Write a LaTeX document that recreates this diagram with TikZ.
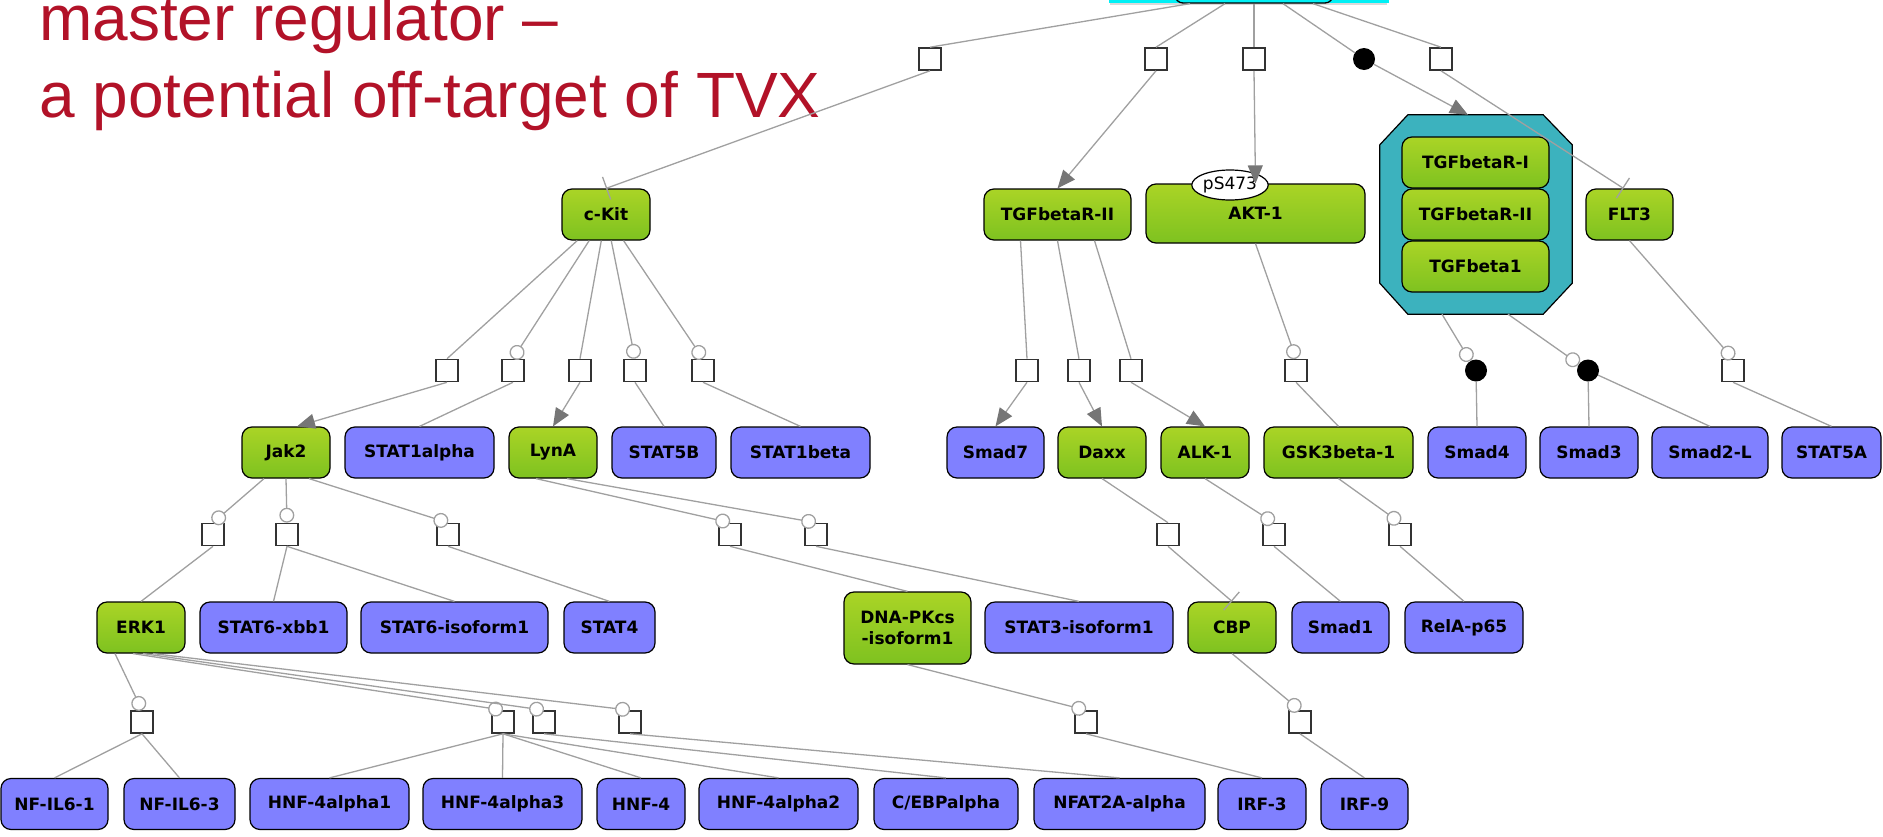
\documentclass[tikz,border=0pt]{standalone}
\usepackage{fontspec}
\setmainfont{DejaVu Sans}
\newfontfamily\titlefont{Liberation Sans}
\usetikzlibrary{arrows.meta,shapes.geometric,calc,shadows}

\definecolor{gtop}{RGB}{170,212,38}
\definecolor{gbot}{RGB}{126,194,32}
\definecolor{pblue}{RGB}{128,128,255}
\definecolor{cplxteal}{RGB}{60,178,190}
\definecolor{edgegray}{RGB}{160,160,160}
\definecolor{tipgray}{RGB}{118,118,118}
\definecolor{boxgray}{RGB}{51,51,51}
\definecolor{titlered}{RGB}{178,18,40}
\definecolor{hlcyan}{RGB}{0,240,245}
\newcommand\lblfont{\bfseries\fontsize{17}{20}\selectfont}

\tikzset{
  gn/.style={rectangle, rounded corners=10pt, draw=black, line width=1.2pt,
    top color=gtop, bottom color=gbot, font=\lblfont, inner sep=0pt,
    minimum height=51pt},
  bn/.style={rectangle, rounded corners=10pt, draw=black, line width=1.2pt,
    fill=pblue, font=\lblfont, inner sep=0pt, minimum height=51pt},
  procbox/.style={rectangle, draw=boxgray, fill=white, line width=1.6pt,
    minimum size=22pt, inner sep=0pt},
  assoc/.style={circle, fill=black, minimum size=22pt, inner sep=0pt},
  conn/.style={draw=edgegray, line width=1.3pt},
  prodarrow/.style={conn, -{Triangle[length=18pt, width=15pt, color=tipgray]}},
  catal/.style={conn, -{Circle[open, length=15pt, width=15pt, fill=white]}},
  inhib/.style={conn, -{Bar[width=24pt]}},
  titletext/.style={anchor=base west, inner sep=0pt,
    font=\titlefont\fontsize{64}{76}\selectfont, text=titlered},
}

\begin{document}
\begin{tikzpicture}[x=1pt, y=-1pt]
\useasboundingbox (0,0) rectangle (1883,836);
\clip (0,0) rectangle (1883,836);

% title
\node[titletext] (t1) at (39,40) {master regulator –};
\node[titletext] (t2) at (39,117) {a potential off-target of TVX};

% highlighted regulator at the top
\node[draw=hlcyan, line width=3pt, fill=white, minimum width=277pt, minimum height=80pt,
  drop shadow={opacity=0.3, shadow xshift=0pt, shadow yshift=-4pt}] (hl) at (1248.5,-39) {};
\node[draw=black, line width=1.3pt, rounded corners=8pt, minimum width=158pt,
  minimum height=60pt] (top) at (1254,-27) {};

% first level
\node[gn, minimum width=88pt] (ckit) at (606,214.5) {c-Kit};
\node[gn, minimum width=147pt] (tgfr2) at (1057.5,214.5) {TGFbetaR-II};
\node[gn, minimum width=219pt, minimum height=59pt] (akt) at (1255.5,213.5) {AKT-1};
\node[ellipse, draw=black, line width=1.2pt, fill=white, minimum width=74pt,
  minimum height=30pt, inner sep=0pt, font=\fontsize{17}{20}\selectfont] (ps) at (1230,185) {pS473};

% TGFbeta complex: octagonal frame around its three members
\node[minimum width=192pt, minimum height=199pt, inner sep=0pt] (cplx) at (1476,214.5) {};
\draw[draw=black, line width=1.2pt, fill=cplxteal]
  ($(cplx.north west)+(28,0)$) -- ($(cplx.north east)+(-29,0)$)
  -- ($(cplx.north east)+(0,30)$) -- ($(cplx.south east)+(0,-31)$)
  -- ($(cplx.south east)+(-29,0)$) -- ($(cplx.south west)+(28,0)$)
  -- ($(cplx.south west)+(0,-31)$) -- ($(cplx.north west)+(0,30)$) -- cycle;
\node[gn, minimum width=147pt] (ctr1) at (1475.5,162.5) {TGFbetaR-I};
\node[gn, minimum width=147pt] (ctr2) at (1475.5,214.5) {TGFbetaR-II};
\node[gn, minimum width=147pt] (ctb1) at (1475.5,266.5) {TGFbeta1};
\node[gn, minimum width=87pt] (flt3) at (1629.5,214.5) {FLT3};

% second level
\node[gn, minimum width=88pt] (jak2) at (286,452.5) {Jak2};
\node[bn, minimum width=149pt] (stat1a) at (419.5,452.5) {STAT1alpha};
\node[gn, minimum width=88pt] (lyna) at (553,452.5) {LynA};
\node[bn, minimum width=104pt] (stat5b) at (664,452.5) {STAT5B};
\node[bn, minimum width=139pt] (stat1b) at (800.5,452.5) {STAT1beta};
\node[bn, minimum width=97pt] (smad7) at (995.5,452.5) {Smad7};
\node[gn, minimum width=88pt] (daxx) at (1102,452.5) {Daxx};
\node[gn, minimum width=88pt] (alk1) at (1205,452.5) {ALK-1};
\node[gn, minimum width=149pt] (gsk) at (1338.5,452.5) {GSK3beta-1};
\node[bn, minimum width=98pt] (smad4) at (1477,452.5) {Smad4};
\node[bn, minimum width=98pt] (smad3) at (1589,452.5) {Smad3};
\node[bn, minimum width=116pt] (smad2l) at (1710,452.5) {Smad2-L};
\node[bn, minimum width=99pt] (stat5a) at (1831.5,452.5) {STAT5A};

% third level
\node[gn, minimum width=88pt] (erk1) at (141,627.5) {ERK1};
\node[bn, minimum width=147pt] (stat6x) at (273.5,627.5) {STAT6-xbb1};
\node[bn, minimum width=187pt] (stat6i) at (454.5,627.5) {STAT6-isoform1};
\node[bn, minimum width=91pt] (stat4) at (609.5,627.5) {STAT4};
\node[gn, minimum width=127pt, minimum height=72pt, align=center] (dnapk) at (907.5,628)
  {DNA-PKcs\\[1pt]-isoform1};
\node[bn, minimum width=188pt] (stat3i) at (1079,627.5) {STAT3-isoform1};
\node[gn, minimum width=88pt] (cbp) at (1232,627.5) {CBP};
\node[bn, minimum width=97pt] (smad1) at (1340.5,627.5) {Smad1};
\node[bn, minimum width=118pt] (rela) at (1464,627.5) {RelA-p65};

% fourth level
\node[bn, minimum width=107pt] (nfil61) at (54.5,804) {NF-IL6-1};
\node[bn, minimum width=111pt] (nfil63) at (179.5,804) {NF-IL6-3};
\node[bn, minimum width=159pt] (hnf4a1) at (329.5,804) {HNF-4alpha1};
\node[bn, minimum width=159pt] (hnf4a3) at (502.5,804) {HNF-4alpha3};
\node[bn, minimum width=88pt] (hnf4) at (641,804) {HNF-4};
\node[bn, minimum width=159pt] (hnf4a2) at (778.5,804) {HNF-4alpha2};
\node[bn, minimum width=144pt] (cebpa) at (946,804) {C/EBPalpha};
\node[bn, minimum width=171pt] (nfat) at (1119.5,804) {NFAT2A-alpha};
\node[bn, minimum width=88pt] (irf3) at (1262,804) {IRF-3};
\node[bn, minimum width=87pt] (irf9) at (1364.5,804) {IRF-9};

% process and association glyphs
\node[procbox] (p1) at (930,59) {};
\node[procbox] (p2) at (1156,59) {};
\node[procbox] (p3) at (1254,59) {};
\node[assoc] (b1) at (1364,59) {};
\node[procbox] (p4) at (1441,59) {};

\node[procbox] (q1) at (447,370.5) {};
\node[procbox] (q2) at (513,370.5) {};
\node[procbox] (q3) at (580,370.5) {};
\node[procbox] (q4) at (635,370.5) {};
\node[procbox] (q5) at (703,370.5) {};
\node[procbox] (q6) at (1027,370.5) {};
\node[procbox] (q7) at (1079,370.5) {};
\node[procbox] (q8) at (1131,370.5) {};
\node[procbox] (q9) at (1296,370.5) {};
\node[assoc] (b2) at (1476,370.5) {};
\node[assoc] (b3) at (1588,370.5) {};
\node[procbox] (q10) at (1733,370.5) {};

\node[procbox] (r1) at (213,534.5) {};
\node[procbox] (r2) at (287,534.5) {};
\node[procbox] (r3) at (448,534.5) {};
\node[procbox] (r4) at (730,534.5) {};
\node[procbox] (r5) at (816,534.5) {};
\node[procbox] (r6) at (1168,534.5) {};
\node[procbox] (r7) at (1274,534.5) {};
\node[procbox] (r8) at (1400,534.5) {};

\node[procbox] (s1) at (142,722) {};
\node[procbox] (s2) at (503,722) {};
\node[procbox] (s3) at (544,722) {};
\node[procbox] (s4) at (630,722) {};
\node[procbox] (s5) at (1086,722) {};
\node[procbox] (s6) at (1300,722) {};

% connectors from the top regulator
\draw[conn] ($(top.south)+(-64,0)$) -- (p1.north);
\draw[inhib] (p1.south) -- (ckit.north);
\draw[conn] ($(top.south)+(-29,0)$) -- (p2.north);
\draw[prodarrow] (p2.south) -- (tgfr2.north);
\draw[conn] (top.south) -- (p3.north);
\draw[prodarrow] (p3.south) -- (akt.north);
\draw[conn] ($(top.south)+(29,0)$) -- (b1);
\draw[prodarrow] (b1) -- ($(cplx.north)+(-8,0)$);
\draw[conn] ($(top.south)+(59,0)$) -- (p4.north);
\draw[inhib] (p4.south) -- ($(flt3.north)+(-6,0)$);

% c-Kit
\draw[conn] (ckit) -- (q1.north);
\draw[prodarrow] (q1.south) -- ($(jak2.north)+(11,0)$);
\draw[catal] (ckit) -- (q2.north);
\draw[conn] (q2.south) -- (stat1a.north);
\draw[conn] (ckit) -- (q3.north);
\draw[prodarrow] (q3.south) -- (lyna.north);
\draw[catal] (ckit) -- (q4.north);
\draw[conn] (q4.south) -- (stat5b.north);
\draw[catal] (ckit) -- (q5.north);
\draw[conn] (q5.south) -- (stat1b.north);

% TGFbetaR-II and AKT-1
\draw[conn] ($(tgfr2.south)+(-37,0)$) -- (q6.north);
\draw[prodarrow] (q6.south) -- (smad7.north);
\draw[conn] (tgfr2.south) -- (q7.north);
\draw[prodarrow] (q7.south) -- (daxx.north);
\draw[conn] ($(tgfr2.south)+(37,0)$) -- (q8.north);
\draw[prodarrow] (q8.south) -- (alk1.north);
\draw[catal] (akt.south) -- (q9.north);
\draw[conn] (q9.south) -- (gsk.north);

% TGFbeta complex and FLT3
\draw[catal] ($(cplx.south)+(-34,0)$) -- (b2);
\draw[conn] (b2) -- (smad4.north);
\draw[catal] ($(cplx.south)+(32,0)$) -- (b3);
\draw[conn] (b3) -- (smad3.north);
\draw[conn] (b3) -- (smad2l.north);
\draw[catal] (flt3.south) -- (q10.north);
\draw[conn] (q10.south) -- (stat5a.north);

% Jak2 and LynA
\draw[catal] ($(jak2.south)+(-22,0)$) -- (r1.north);
\draw[conn] (r1.south) -- (erk1.north);
\draw[catal] (jak2.south) -- (r2.north);
\draw[conn] (r2.south) -- (stat6x.north);
\draw[conn] (r2.south) -- (stat6i.north);
\draw[catal] ($(jak2.south)+(23,0)$) -- (r3.north);
\draw[conn] (r3.south) -- (stat4.north);
\draw[catal] ($(lyna.south)+(-17,0)$) -- (r4.north);
\draw[conn] (r4.south) -- (dnapk.north);
\draw[catal] ($(lyna.south)+(14,0)$) -- (r5.north);
\draw[conn] (r5.south) -- (stat3i.north);

% Daxx, ALK-1, GSK3beta-1
\draw[conn] (daxx.south) -- (r6.north);
\draw[inhib] (r6.south) -- (cbp.north);
\draw[catal] (alk1.south) -- (r7.north);
\draw[conn] (r7.south) -- (smad1.north);
\draw[catal] (gsk.south) -- (r8.north);
\draw[conn] (r8.south) -- (rela.north);

% ERK1
\draw[catal] ($(erk1.south)+(-26,0)$) -- (s1.north);
\draw[conn] (s1.south) -- (nfil61.north);
\draw[conn] (s1.south) -- (nfil63.north);
\draw[catal] ($(erk1.south)+(-8,0)$) -- (s2.north);
\draw[catal] ($(erk1.south)+(2,0)$) -- (s3.north);
\draw[catal] ($(erk1.south)+(12,0)$) -- (s4.north);
\draw[conn] (s2.south) -- (hnf4a1.north);
\draw[conn] (s2.south) -- (hnf4a3.north);
\draw[conn] (s2.south) -- (hnf4.north);
\draw[conn] (s2.south) -- (hnf4a2.north);
\draw[conn] (s3.south) -- (cebpa.north);
\draw[conn] (s4.south) -- (nfat.north);

% DNA-PKcs and CBP
\draw[catal] (dnapk.south) -- (s5.north);
\draw[conn] (s5.south) -- (irf3.north);
\draw[catal] (cbp.south) -- (s6.north);
\draw[conn] (s6.south) -- (irf9.north);
\end{tikzpicture}
\end{document}
